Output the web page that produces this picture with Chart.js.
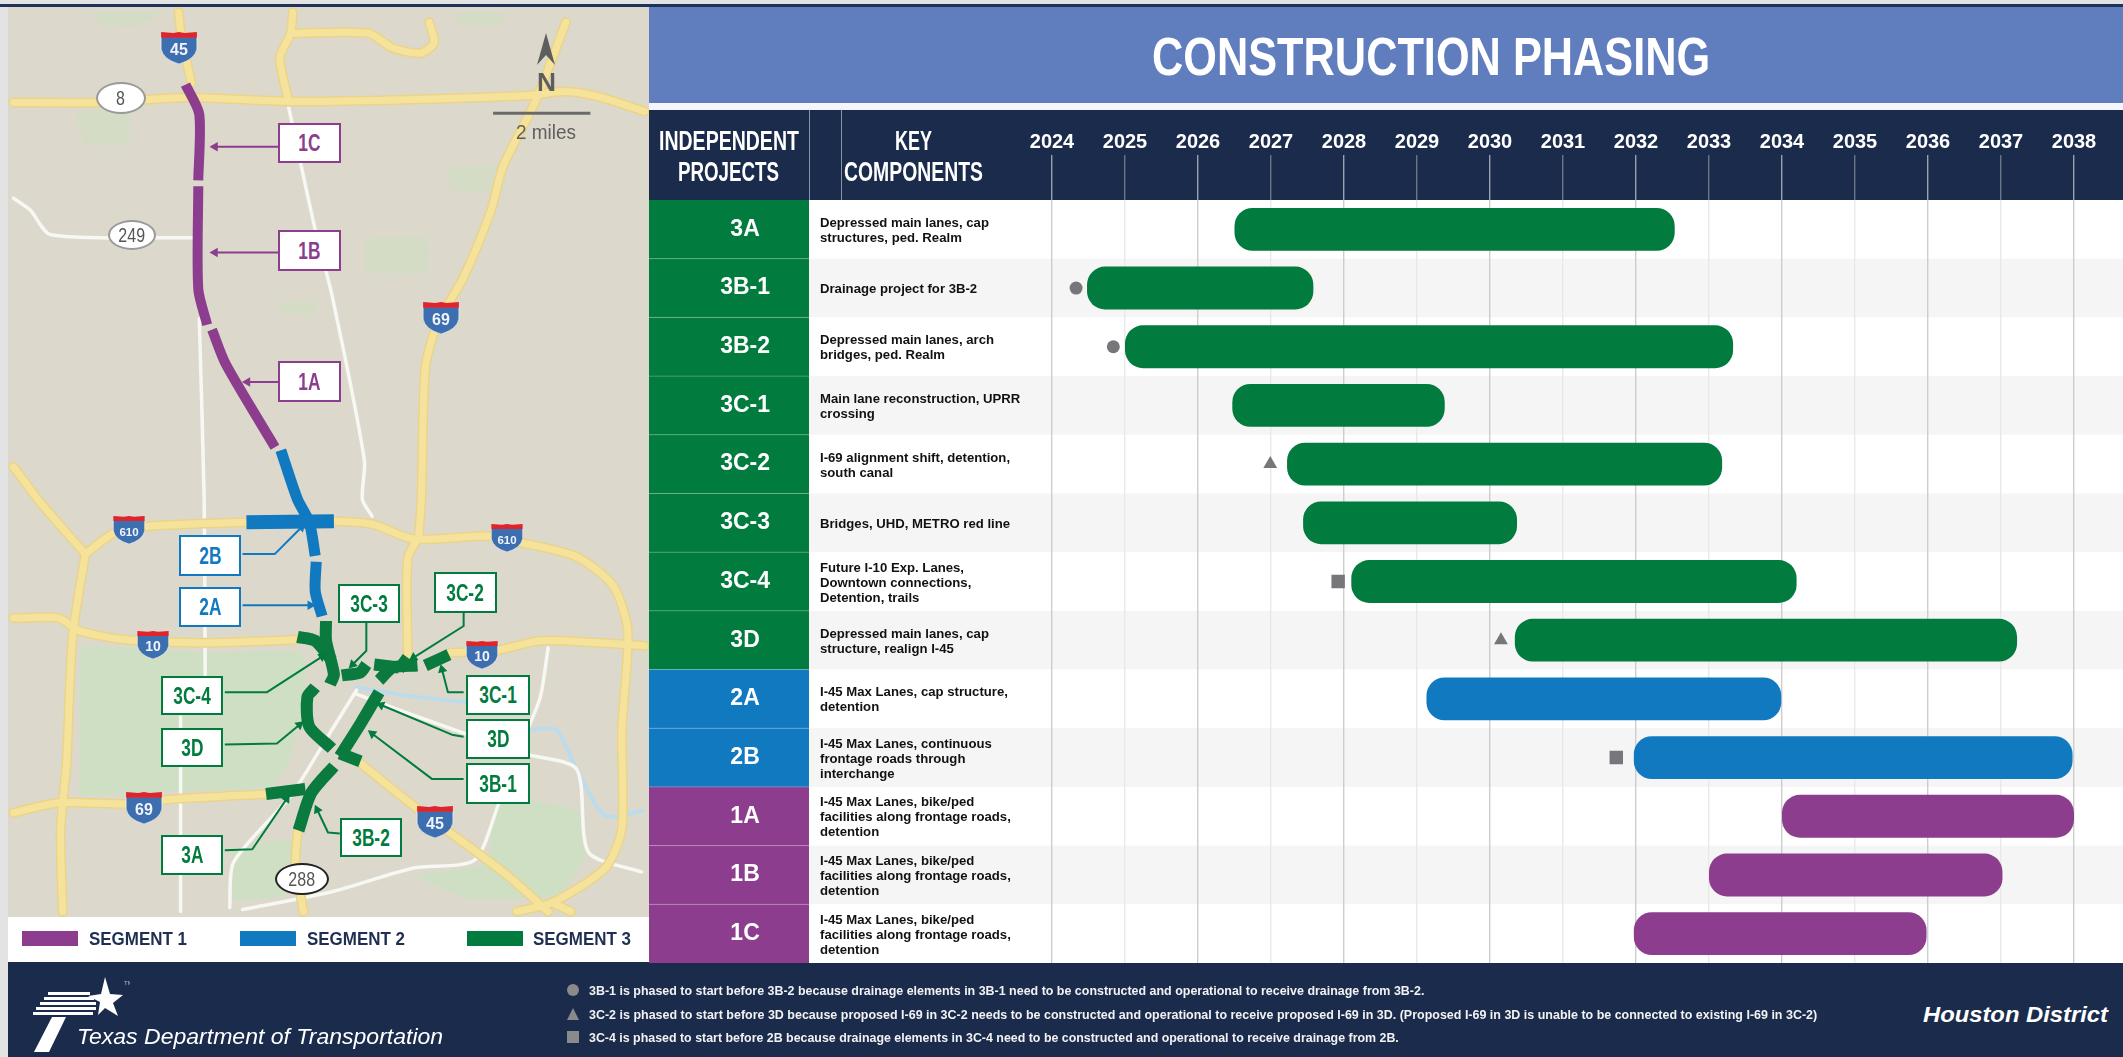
<!DOCTYPE html>
<html><head><meta charset="utf-8">
<script src="https://cdn.jsdelivr.net/npm/chart.js@4"></script>
<style>
html,body{margin:0;padding:0;width:2123px;height:1057px;overflow:hidden;background:#e3e3e3;font-family:"Liberation Sans",sans-serif}
#root{position:absolute;left:0;top:0;width:2123px;height:1057px;overflow:hidden;filter:blur(.45px)}
.a{position:absolute}
.t{position:absolute;white-space:nowrap;transform-origin:0 50%;line-height:1}
canvas{position:absolute;display:block}
.box{position:absolute;background:#fff;box-sizing:border-box;border:2.5px solid;display:flex;align-items:center;justify-content:center;font-weight:700;font-size:24px}
.box span{display:inline-block;transform:scaleX(.72)}
.oval{position:absolute;background:#fff;border:2px solid;border-radius:50%;box-sizing:border-box;display:flex;align-items:center;justify-content:center;font-size:20px;color:#555}
.oval span{display:inline-block;transform:scaleX(.8)}
</style></head><body>
<div id="root">
 <div class="a" style="left:0;top:4px;width:2123px;height:3px;background:#1f3358"></div>
 <div class="a" style="left:649px;top:7px;width:1474px;height:96px;background:#607dbd"></div>
 <div class="a" style="left:649px;top:103px;width:1474px;height:7px;background:#f4f6fb"></div>
 <div class="a" style="left:649px;top:110px;width:1474px;height:90px;background:#1a2b4c"></div>
 <div class="a" style="left:809px;top:110px;width:1px;height:90px;background:#8a93a6"></div>
 <div class="a" style="left:841px;top:110px;width:1px;height:90px;background:#8a93a6"></div>
 <div class="a" style="left:649px;top:200px;width:1474px;height:763px;background:#fff"></div>
 <div class="a" style="left:8px;top:917px;width:641px;height:46px;background:#fff"></div>
 <div class="a" style="left:8px;top:962px;width:2115px;height:95px;background:#1a2b4c"></div>
 <canvas id="map" class="a" width="641" height="910" style="left:8px;top:7px"></canvas>
 <canvas id="gantt" class="a" width="1484" height="863" style="left:649px;top:110px"></canvas>
</div>
<script>
// ---------- schedule data ----------
const categories = ['3A','3B-1','3B-2','3C-1','3C-2','3C-3','3C-4','3D','2A','2B','1A','1B','1C'];
const startYears = [2026.5,2024.48,2025.0,2026.47,2027.22,2027.44,2028.1,2030.34,2029.13,2031.97,2034.0,2033.0,2031.97];
const endYears   = [2032.53,2027.58,2033.33,2029.38,2033.18,2030.37,2034.2,2037.22,2033.99,2037.98,2038.0,2037.02,2035.98];
const segments   = [3,3,3,3,3,3,3,3,2,2,1,1,1];
const circleDeps   = [['3B-1',2024.33],['3B-2',2024.84]];
const triangleDeps = [['3C-2',2026.99],['3D',2030.15]];
const squareDeps   = [['3C-4',2027.92],['2B',2031.73]];
const components = [
 ['Depressed main lanes, cap','structures, ped. Realm'],
 ['Drainage project for 3B-2'],
 ['Depressed main lanes, arch','bridges, ped. Realm'],
 ['Main lane reconstruction, UPRR','crossing'],
 ['I-69 alignment shift, detention,','south canal'],
 ['Bridges, UHD, METRO red line'],
 ['Future I-10 Exp. Lanes,','Downtown connections,','Detention, trails'],
 ['Depressed main lanes, cap','structure, realign I-45'],
 ['I-45 Max Lanes, cap structure,','detention'],
 ['I-45 Max Lanes, continuous','frontage roads through','interchange'],
 ['I-45 Max Lanes, bike/ped','facilities along frontage roads,','detention'],
 ['I-45 Max Lanes, bike/ped','facilities along frontage roads,','detention'],
 ['I-45 Max Lanes, bike/ped','facilities along frontage roads,','detention']
];
const footnotes = [
 '3B-1 is phased to start before 3B-2 because drainage elements in 3B-1 need to be constructed and operational to receive drainage from 3B-2.',
 '3C-2 is phased to start before 3D because proposed I-69 in 3C-2 needs to be constructed and operational to receive proposed I-69 in 3D. (Proposed I-69 in 3D is unable to be connected to existing I-69 in 3C-2)',
 '3C-4 is phased to start before 2B because drainage elements in 3C-4 need to be constructed and operational to receive drainage from 2B.'
];
// ---------- map data (map space) ----------
const yellowRoads = [
 [[176,7],[179,33],[189,78]],
 [[8,98],[100,98],[183,93],[290,97],[415,95],[531,91],[568,87],[602,92],[650,107]],
 [[288,97],[279,53],[290,28],[292,7]],
 [[290,28],[369,28],[394,43],[423,48],[436,37],[431,17]],
 [[570,17],[539,97],[506,163],[494,207],[465,277],[440,320],[427,367],[423,500],[420,540]],
 [[8,467],[37,505],[81,555]],
 [[81,555],[112,533],[145,527],[245,523],[332,522],[373,525],[415,540],[490,537],[531,545],[581,558],[618,587],[633,633],[627,733],[627,833],[610,873],[556,908],[520,917]],
 [[556,908],[575,917]],
 [[81,555],[68,640],[62,767],[56,833],[58,917]],
 [[8,620],[54,620],[75,633],[124,642],[207,645],[295,642]],
 [[452,655],[498,653],[544,643],[602,645],[650,648]],
 [[8,817],[54,807],[124,808],[174,803],[266,798]],
 [[361,767],[415,810],[452,837],[510,880],[552,917]],
 [[297,837],[295,867],[303,917]],
 [[419,540],[409,560],[409,657]]
];
const whiteRoads = [
 [[8,195],[25,207],[46,232],[191,235]],
 [[288,103],[315,227],[332,293],[365,460],[363,500],[373,517]],
 [[197,317],[202,500],[203,677]],
 [[178,720],[178,917]],
 [[357,693],[332,733],[290,800],[232,867],[228,913]],
 [[241,915],[332,897],[415,873],[477,865],[502,807]],
 [[357,697],[456,733],[531,758],[581,773],[593,857],[647,877]],
 [[552,650],[544,700],[531,733]]
];
const mainParks = [
 [[75,648],[135,650],[205,655],[300,655],[305,690],[290,760],[270,790],[175,795],[75,800]],
 [[415,880],[490,867],[498,807],[581,815],[590,860],[560,900],[470,905]],
 [[230,855],[290,845],[285,900],[230,905]]
];
const minorParks = [
 [[365,235],[427,235],[427,270],[365,270]],
 [[452,163],[506,163],[506,187],[452,187]],
 [[70,107],[124,107],[124,140],[80,140]],
 [[83,7],[158,7],[130,22],[100,20]],
 [[452,7],[510,7],[500,20],[465,20]],
 [[280,300],[315,300],[315,312],[280,312]]
];
const waterLines = [
 [[535,733],[560,733],[581,773],[610,820],[648,815]],
 [[357,690],[420,700],[470,705]]
];
const seg1Paths = [
 [[183,80],[197,110],[196,177]],
 [[196,183],[196,287],[205,323]],
 [[210,328],[224,363],[274,447]]
];
const seg2Paths = [
 [[280,450],[297,500],[309,523],[315,557]],
 [[316,563],[315,593],[322,618]]
];
const seg2Bar = [[245,523],[334,522]];
const seg3Paths = [
 [[326,623],[326,643],[334,677],[330,687]],
 [[297,639],[315,643],[332,663]],
 [[342,678],[361,675],[367,667]],
 [[380,683],[394,670],[419,668]],
 [[375,667],[400,670]],
 [[409,660],[400,672]],
 [[427,668],[451,657]],
 [[315,690],[307,700],[309,730],[332,752]],
 [[380,695],[361,727],[340,760]],
 [[340,757],[361,765]],
 [[334,770],[311,797],[298,835]],
 [[265,798],[305,793]]
];
const purple='#8d3d8d', blue='#1079bf', green='#027b3e';
const leaderLines = [
 [purple,[[278,143],[213,143]]],[purple,[[278,250],[213,250]]],[purple,[[278,381],[246,381]]],
 [blue,[[241,555],[274,555],[301,528]]],[blue,[[241,607],[310,607]]],
 [green,[[367,623],[367,653],[353,667]]],[green,[[466,613],[466,628],[415,660]]],
 [green,[[223,695],[266,695],[322,659]]],[green,[[223,748],[276,747],[299,728]]],
 [green,[[223,855],[251,854],[286,803]]],[green,[[340,838],[328,837],[317,814]]],
 [green,[[466,695],[450,695],[444,672]]],[green,[[466,740],[454,738],[382,708]]],
 [green,[[466,783],[434,783],[373,737]]]
];
const mapBoxes = [
 ['1C',purple,278,123,63,40],['1B',purple,278,230,63,41],['1A',purple,278,361,63,41],
 ['2B',blue,179,535,62,41],['2A',blue,179,587,62,40],
 ['3C-3',green,338,584,62,39],['3C-2',green,434,572,63,41],['3C-4',green,161,676,62,39],
 ['3C-1',green,466,675,64,40],['3D',green,466,719,64,40],['3B-1',green,466,763,64,41],
 ['3D',green,161,728,62,39],['3A',green,161,835,62,40],['3B-2',green,340,818,62,39]
];
const shields = [['45',179,48,40,32],['69',441,318,40,32],['610',129,530,34,28],['610',507,538,34,28],['10',153,645,36,28],['10',482,655,36,28],['69',144,808,40,32],['45',435,822,40,32]];
const ovals = [['8',121,98,50,32,'#999'],['249',132,235,48,30,'#999'],['288',302,879,54,32,'#222']];

const root=document.getElementById('root');
function place(text,x1,x2,y,font,color){
  const s=document.createElement('span');s.className='t';s.textContent=text;
  s.style.font=font;s.style.color=color;s.style.left=x1+'px';s.style.top=y+'px';s.style.lineHeight='1';
  root.appendChild(s);
  const w=s.getBoundingClientRect().width;
  s.style.transform='translateY(-50%) scaleX('+((x2-x1)/w).toFixed(3)+')';
  return s;
}
function scaled(text,x,y,font,color,k){
  const s=document.createElement('span');s.className='t';s.textContent=text;
  s.style.font=font;s.style.color=color;s.style.left=x+'px';s.style.top=y+'px';s.style.lineHeight='1';
  s.style.transform='translateY(-50%) scaleX('+k+')';root.appendChild(s);return s;
}
const nb=n=>'700 '+n+'px "Liberation Sans"';
place('CONSTRUCTION PHASING',1152,1710,55.5,nb(54),'#fff');
place('INDEPENDENT',659,799,141,nb(27),'#fff');
place('PROJECTS',678,779,172,nb(27),'#fff');
place('KEY',895,932,141,nb(27),'#fff');
place('COMPONENTS',844,983,172,nb(27),'#fff');

// ---------- gantt ----------
const x0=2024, xMax=2024+(2123-1052)/73;
const segColor={1:purple,2:blue,3:green};
const bandPlugin={id:'bands',beforeDraw(c){
  const {ctx,chartArea:a,scales:{y}}=c;const h=a.height/categories.length;
  categories.forEach((cat,i)=>{
    const top=y.getPixelForValue(i)-h/2;
    ctx.fillStyle=i%2?'#f5f5f5':'#ffffff';ctx.fillRect(160,top,a.right-160,h);
    ctx.fillStyle=segColor[segments[i]];ctx.fillRect(0,top,160,h);
    if(i){ctx.fillStyle='rgba(255,255,255,.22)';ctx.fillRect(0,top-.5,160,1);}
  });
}};
const gantt=new Chart(document.getElementById('gantt'),{
  type:'bar',
  data:{labels:categories,datasets:[
    {type:'scatter',data:circleDeps.map(d=>({x:d[1],y:d[0]})),pointStyle:'circle',pointRadius:6.5,backgroundColor:'#77777b',pointBorderWidth:0,order:0},
    {type:'scatter',data:triangleDeps.map(d=>({x:d[1],y:d[0]})),pointStyle:'triangle',pointRadius:8,backgroundColor:'#77777b',pointBorderWidth:0,order:0},
    {type:'scatter',data:squareDeps.map(d=>({x:d[1],y:d[0]})),pointStyle:'rect',pointRadius:9.5,backgroundColor:'#77777b',pointBorderWidth:0,order:0},
    {type:'bar',data:startYears.map((s,i)=>[s,endYears[i]]),backgroundColor:segments.map(s=>segColor[s]),
     barPercentage:.73,categoryPercentage:1,borderRadius:18,borderSkipped:false,order:1}
  ]},
  options:{indexAxis:'y',responsive:false,animation:false,devicePixelRatio:1,
    plugins:{legend:{display:false},tooltip:{enabled:false}},
    layout:{padding:{left:0,top:0,right:10,bottom:10}},
    scales:{
      x:{type:'linear',position:'top',min:x0,max:xMax,
        afterFit(s){s.height=90;s.paddingLeft=0;s.paddingRight=0;},
        border:{display:false},
        grid:{drawOnChartArea:true,tickLength:45,
          color:c=>c.tick&&c.tick.value%2===0?'#cdcdcf':'#e9e9e9',
          tickColor:c=>c.tick&&c.tick.value%2===0?'#9aa1b0':'#6d7688',lineWidth:1.4},
        ticks:{stepSize:1,includeBounds:false,autoSkip:false,maxRotation:0,color:'#fff',padding:1,
          font:{family:'Liberation Sans',weight:'700',size:20},
          callback:v=>String(v)}},
      y:{type:'category',labels:categories,offset:true,
        afterFit(s){s.width=403;s.paddingTop=0;s.paddingBottom=0;},
        border:{display:false},grid:{display:false,drawTicks:false},
        ticks:{crossAlign:'center',color:'#fff',padding:282,
          font:{family:'Liberation Sans',weight:'700',size:23}}}
    }},
  plugins:[bandPlugin]
});

// component text, scaled so the reference line matches its width
(function(){
  const probe=scaled(components[0][0],820,-50,nb(13),'#111',1);
  const k=169/probe.getBoundingClientRect().width;probe.remove();
  components.forEach((lines,i)=>{
    const cy=110+gantt.scales.y.getPixelForValue(i);
    lines.forEach((l,j)=>scaled(l,820,cy+(j-(lines.length-1)/2)*15,nb(13),'#111',k.toFixed(3)));
  });
})();

// ---------- footer ----------
const footY=[990,1014,1037],footX2=[1424,1817,1399];
footnotes.forEach((f,i)=>place(f,589,footX2[i],footY[i],nb(13),'#f2f2f2'));
[['50%','none'],['0','polygon(50% 0,100% 100%,0 100%)'],['0','none']].forEach((m,i)=>{
  const d=document.createElement('div');d.className='a';
  d.style.cssText=`left:567px;top:${footY[i]-6}px;width:12px;height:12px;background:#8a8a8a;border-radius:${m[0]};clip-path:${m[1]}`;
  root.appendChild(d);
});
place('Texas Department of Transportation',77,443,1037,'italic 400 22px "Liberation Sans"','#fff');
place('Houston District',1923,2108,1015,'italic 700 22px "Liberation Sans"','#fff');
root.insertAdjacentHTML('beforeend',`<svg class="a" style="left:30px;top:975px" width="100" height="80" viewBox="30 975 100 80">
<polygon fill="#fff" points="105,977 110,994 123,995 113,1003 118,1016 105,1008 98,1015 100,1002 88,996 101,994"/>
<g fill="#fff"><rect x="48" y="992" width="42" height="3"/><rect x="44" y="997" width="50" height="3"/><rect x="40" y="1002" width="56" height="3"/><rect x="36" y="1007" width="60" height="3"/><rect x="33" y="1012" width="60" height="3"/></g>
<polygon fill="#fff" points="52,1017 66,1017 49,1052 34,1052"/>
<text x="124" y="985" fill="#bbb" font-size="6">TM</text></svg>`);

// ---------- map legend ----------
[[22,purple,'SEGMENT 1',89,187],[240,blue,'SEGMENT 2',307,405],[467,green,'SEGMENT 3',533,631]].forEach(l=>{
  const d=document.createElement('div');d.className='a';
  d.style.cssText=`left:${l[0]}px;top:931px;width:56px;height:15px;background:${l[1]}`;root.appendChild(d);
  place(l[2],l[3],l[4],938.5,nb(18),'#1f2f52');
});

// ---------- map ----------
function pts(a){return a.map(p=>({x:p[0],y:p[1]}));}
const mapSets=[];
function line(a,color,w,opt){mapSets.push(Object.assign({data:pts(a),showLine:true,borderColor:color,borderWidth:w,pointRadius:0,tension:.25,borderCapStyle:'round',borderJoinStyle:'round',fill:false,clip:false},opt||{}));}
mainParks.forEach(a=>line(a,'rgba(0,0,0,0)',0,{fill:'shape',backgroundColor:'#cfdfc4',tension:.2}));
minorParks.forEach(a=>line(a,'rgba(0,0,0,0)',0,{fill:'shape',backgroundColor:'#d5dcc6',tension:.2}));
waterLines.forEach(a=>line(a,'#bcdcec',4));
whiteRoads.forEach(a=>line(a,'#f7f7f3',3.5));
yellowRoads.forEach(a=>line(a,'#ead48a',10));
yellowRoads.forEach(a=>line(a,'#f6e39b',7));
seg1Paths.forEach(a=>line(a,purple,10,{borderCapStyle:'butt'}));
seg2Paths.forEach(a=>line(a,blue,11,{borderCapStyle:'butt'}));
line(seg2Bar,blue,14,{borderCapStyle:'butt',tension:0});
seg3Paths.forEach(a=>line(a,'#0b7a3e',12,{borderCapStyle:'butt'}));
line([[496,109],[595,109]],'#6a6a6a',3,{tension:0,borderCapStyle:'butt'});
leaderLines.forEach(l=>{
  const a=l[1],n=a.length,p=a[n-1],q=a[n-2];
  const rot=Math.atan2(p[0]-q[0],-(p[1]-q[1]))*180/Math.PI;
  line(a,l[0],2,{tension:0,borderCapStyle:'butt',pointStyle:'triangle',pointBackgroundColor:l[0],pointBorderWidth:0,
    pointRotation:rot,pointRadius:c=>c.dataIndex===n-1?5.5:0});
});
mapSets.forEach((s,i)=>{s.order=mapSets.length-i;});
new Chart(document.getElementById('map'),{type:'scatter',data:{datasets:mapSets},
  options:{responsive:false,animation:false,devicePixelRatio:1,
    plugins:{legend:{display:false},tooltip:{enabled:false}},
    layout:{padding:0},
    scales:{x:{type:'linear',min:8,max:649,display:false},y:{type:'linear',min:7,max:917,reverse:true,display:false}}},
  plugins:[{id:'land',beforeDraw(c){c.ctx.fillStyle='#dcd9cc';c.ctx.fillRect(0,0,c.width,c.height);}}]
});
mapBoxes.forEach(b=>{
  const d=document.createElement('div');d.className='box';d.innerHTML='<span>'+b[0]+'</span>';
  d.style.cssText=`left:${b[2]}px;top:${b[3]}px;width:${b[4]}px;height:${b[5]}px;color:${b[1]};border-color:${b[1]}`;
  root.appendChild(d);
});
shields.forEach(s=>{
  const [t,cx,cy,w,h]=s;
  root.insertAdjacentHTML('beforeend',`<svg class="a" style="left:${cx-w/2}px;top:${cy-h/2}px" width="${w}" height="${h}" viewBox="0 0 40 34">
   <path d="M1 5 L39 5 L39 18 Q37 29 20 34 Q3 29 1 18Z" fill="#3c6eb0" stroke="#fff" stroke-width=".6"/>
   <path d="M1 0 L14 1 L20 0 L26 1 L39 0 L39 6 L1 6Z" fill="#e0242c"/>
   <text x="20" y="24" fill="#f1f4fa" font-family="Liberation Sans" font-weight="700" font-size="${t.length>2?14:17}" text-anchor="middle">${t}</text></svg>`);
});
ovals.forEach(o=>{
  const d=document.createElement('div');d.className='oval';d.innerHTML='<span>'+o[0]+'</span>';
  d.style.cssText=`left:${o[1]-o[3]/2}px;top:${o[2]-o[4]/2}px;width:${o[3]}px;height:${o[4]}px;border-color:${o[5]}`;
  root.appendChild(d);
});
root.insertAdjacentHTML('beforeend',`<svg class="a" style="left:535px;top:33px" width="22" height="34"><polygon points="11,0 20,32 11,22 2,32" fill="#5e5e5e"/></svg>`);
place('N',537,556,82,nb(26),'#5e5e5e');
place('2 miles',516,576,132,'400 20px "Liberation Sans"','#5e5e5e');
</script>
</body></html>
